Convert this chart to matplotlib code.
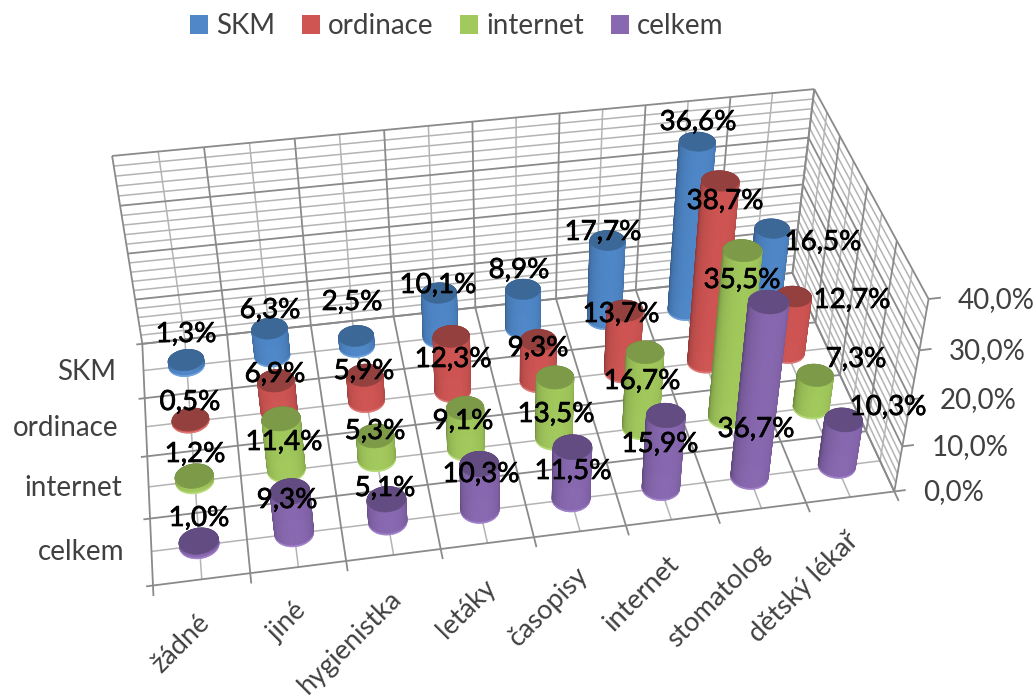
import numpy as np
import matplotlib
import matplotlib.pyplot as plt
import matplotlib.patheffects as pe
from matplotlib.collections import PolyCollection
from matplotlib.colors import to_rgb
from matplotlib.patches import Patch

matplotlib.use("Agg")

plt.rcParams["font.family"] = ["Lato", "DejaVu Sans"]

categories = ["žádné", "jiné", "hygienistka", "letáky", "časopisy", "internet", "stomatolog", "dětský lékař"]
series_names = ["SKM", "ordinace", "internet", "celkem"]
value_ticks = [0, 10, 20, 30, 40]

skm = [1.3, 6.3, 2.5, 10.1, 8.9, 17.7, 36.6, 16.5]
ordinace = [0.5, 6.9, 5.9, 12.3, 9.3, 13.7, 38.7, 12.7]
internet = [1.2, 11.4, 5.3, 9.1, 13.5, 16.7, 35.5, 7.3]
celkem = [1.0, 9.3, 5.1, 10.3, 11.5, 15.9, 36.7, 10.3]
series_values = [skm, ordinace, internet, celkem]

body_colors = ["#4F87C8", "#CF5553", "#A2C95C", "#8868B0"]
top_colors = ["#3C6898", "#93403E", "#7C9A48", "#634C82"]
rim_colors = ["#6FA3DE", "#DE7A78", "#B8DC7C", "#A384CC"]

# box corners and axis ticks on the canvas, used to solve the camera
cam_world = [(0, 0, 0), (8, 0, 0), (8, 0, 40), (8, 4, 40), (0, 4, 40), (0, 4, 0), (8, 4, 0),
             (1, 0, 0), (3, 0, 0), (0, 1, 0), (0, 2, 0), (0, 3, 0)]
cam_canvas = [(153, 584), (893, 491), (929, 298), (814, 89), (112, 157), (143, 343), (793, 273),
              (251, 573), (442, 553), (149, 517), (147, 457), (144, 398)]

# data label centres, one row per series
label_pos = [
    [(186, 334), (270, 310), (352, 302), (438, 285), (519, 270), (603, 232), (698, 122), (823, 242)],
    [(190, 402), (275, 374), (364, 371), (453, 359), (538, 348), (621, 314), (725, 201), (852, 300)],
    [(195, 454), (284, 442), (375, 431), (463, 421), (556, 414), (642, 381), (742, 280), (856, 359)],
    [(199, 518), (287, 500), (385, 488), (481, 474), (573, 471), (660, 444), (756, 429), (888, 407)],
]


def solve_camera(world, canvas):
    rows = []
    rhs = []
    for (x, y, z), (u, v) in zip(world, canvas):
        rows.append([x, y, z, 1, 0, 0, 0, 0, -u * x, -u * y, -u * z])
        rows.append([0, 0, 0, 0, x, y, z, 1, -v * x, -v * y, -v * z])
        rhs += [u, v]
    sol = np.linalg.lstsq(np.array(rows, float), np.array(rhs, float), rcond=None)[0]
    return np.append(sol, 1.0).reshape(3, 4)


CAM = solve_camera(cam_world, cam_canvas)


def project(x, y, z):
    x, y, z = np.broadcast_arrays(x, y, z)
    p = CAM @ np.array([x.ravel(), y.ravel(), z.ravel(), np.ones(x.size)], float)
    return np.column_stack([p[0] / p[2], p[1] / p[2]])


def line3d(ax, a, b, color, lw, z=1):
    pts = project(*np.array([a, b]).T)
    ax.plot(pts[:, 0], pts[:, 1], color=color, lw=lw, zorder=z, solid_capstyle="butt")


def draw_walls(ax):
    major, minor = "#8A8A8A", "#B4B4B4"
    # minor lines first so the major ones stay on top
    for x in np.arange(0.5, 8, 1):
        line3d(ax, (x, 4, 0), (x, 4, 40), minor, 1.1)
        line3d(ax, (x, 0, 0), (x, 4, 0), minor, 1.1)
    for y in np.arange(0.5, 4, 1):
        line3d(ax, (0, y, 0), (8, y, 0), minor, 1.1)
        line3d(ax, (8, y, 0), (8, y, 40), minor, 1.1)
    for v in range(2, 40, 2):
        if v % 10:
            line3d(ax, (0, 4, v), (8, 4, v), minor, 1.1)
            line3d(ax, (8, 0, v), (8, 4, v), minor, 1.1)
    for x in range(9):
        line3d(ax, (x, 4, 0), (x, 4, 40), major, 1.3)
        line3d(ax, (x, -0.15, 0), (x, 4, 0), major, 1.3)
    for y in range(5):
        line3d(ax, (-0.07, y, 0), (8, y, 0), major, 1.3)
        line3d(ax, (8, y, 0), (8, y, 40), major, 1.3)
    for v in value_ticks:
        line3d(ax, (0, 4, v), (8, 4, v), major, 1.3)
        line3d(ax, (8, 0, v), (8, 4, v), major, 1.3)
        line3d(ax, (8, 0, v), (8.13, 0, v), major, 1.3)


def draw_cylinder(ax, cx, cy, height, idx, order):
    rx, ry = 0.205, 0.195
    n = 90
    theta = np.linspace(0, 2 * np.pi, n + 1)
    xs = cx + rx * np.cos(theta)
    ys = cy + ry * np.sin(theta)
    body = np.array(to_rgb(body_colors[idx]))
    rim = np.array(to_rgb(rim_colors[idx]))
    rim_h = min(0.22, height / 3)

    polys, faces = [], []
    # back half first, then the side facing the viewer
    seq = np.argsort(-np.sin(theta[:-1]))
    for i in seq:
        xq = [xs[i], xs[i + 1], xs[i + 1], xs[i]]
        yq = [ys[i], ys[i + 1], ys[i + 1], ys[i]]
        front = max(0.0, -np.sin(theta[i] + np.pi / n))
        shade = 0.7 + 0.3 * front ** 0.5
        polys.append(project(xq, yq, [rim_h, rim_h, height, height]))
        faces.append(body * shade)
        polys.append(project(xq, yq, [0, 0, rim_h, rim_h]))
        faces.append(rim)
    side = PolyCollection(polys, facecolors=faces, edgecolors=faces, linewidths=0.6, zorder=order)
    ax.add_collection(side)
    ax.fill(*project(xs, ys, height).T, color=top_colors[idx], lw=0.4, zorder=order + 0.5)


def plot_chart():
    fig = plt.figure(figsize=(10.36, 6.97), dpi=100)
    ax = fig.add_axes([0, 0, 1, 1])
    ax.set_xlim(0, 1036)
    ax.set_ylim(697, 0)
    ax.axis("off")

    draw_walls(ax)

    # SKM row sits at the back of the floor, celkem at the front
    order = 2
    for s, values in enumerate(series_values):
        row_y = 3.5 - s
        for c, val in enumerate(values):
            draw_cylinder(ax, c + 0.5, row_y, val, s, order)
            order += 1

    heavy = [pe.withStroke(linewidth=0.5, foreground="black")]
    for s, values in enumerate(series_values):
        for c, val in enumerate(values):
            x, y = label_pos[s][c]
            ax.text(x, y, f"{val:.1f}%".replace(".", ","), ha="center", va="center",
                    fontsize=20, color="black", zorder=200, path_effects=heavy)

    axis_color = "#404040"
    for c, name in enumerate(categories):
        px, py = project(c + 0.5, 0, 0)[0]
        ax.text(px + 4, py + 40, name, rotation=45, rotation_mode="anchor", ha="right", va="center",
                fontsize=19.5, color=axis_color)
    for s, name in enumerate(series_names):
        px, py = project(0, 3.5 - s, 0)[0]
        ax.text(px - 27, py + 1, name, ha="right", va="center", fontsize=20, color=axis_color)
    for v in value_ticks:
        px, py = project(8, 0, v)[0]
        ax.text(px + 29, py + 1, f"{v:.1f}%".replace(".", ","), ha="left", va="center",
                fontsize=20, color=axis_color)

    handles = [Patch(facecolor=c, edgecolor="none") for c in body_colors]
    ax.legend(handles, series_names, ncol=4, loc="center", bbox_to_anchor=(457, 26),
              bbox_transform=ax.transData, frameon=False, fontsize=20, labelcolor=axis_color,
              handlelength=0.65, handleheight=0.65, handletextpad=0.3, columnspacing=0.95)

    fig.savefig("out.png", dpi=100)
    plt.close(fig)


plot_chart()
